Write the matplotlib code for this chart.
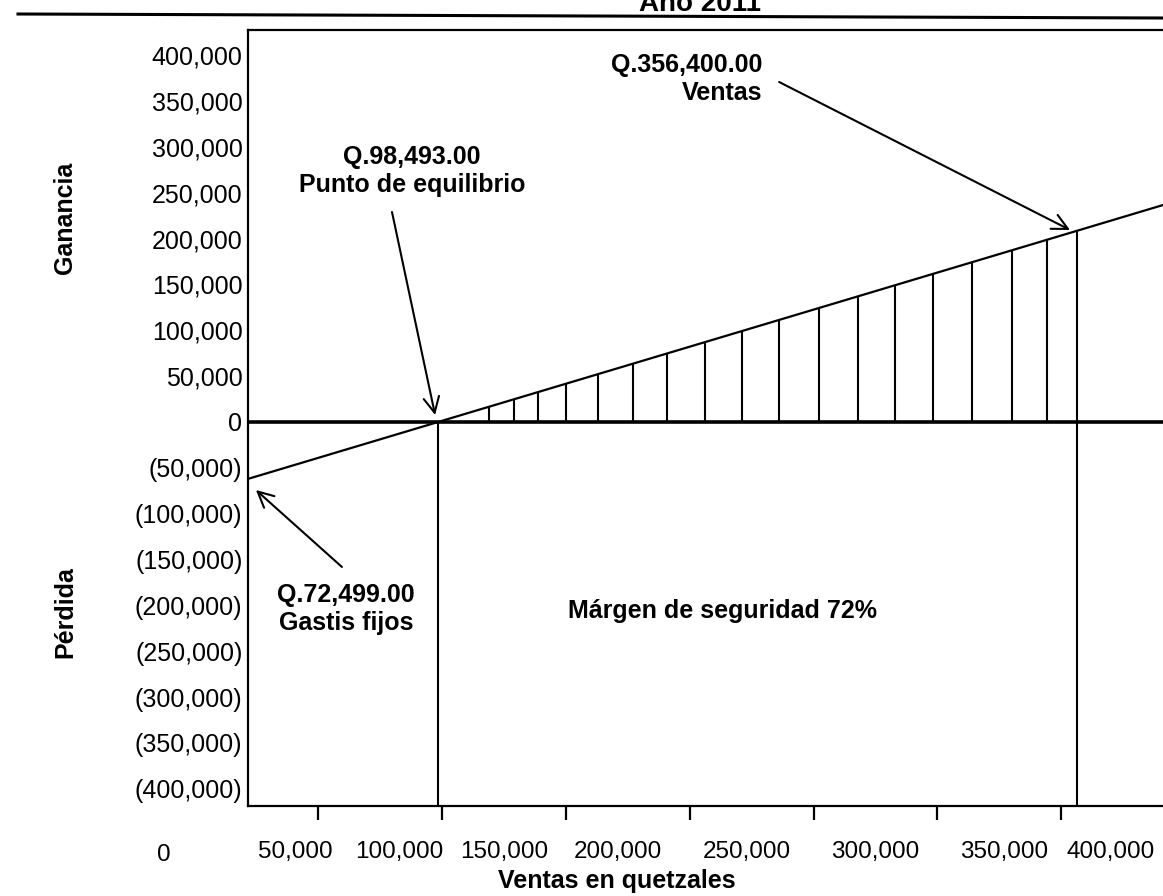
import matplotlib
matplotlib.use("Agg")
import matplotlib.pyplot as plt
from matplotlib.lines import Line2D

plt.rcParams["font.family"] = ["Liberation Sans", "DejaVu Sans"]

# datos
linea_ventas = [0, 98_493, 356_400, 400_000]
linea_utilidad = [-79_700, 0, 208_600, 243_900]

equilibrio = 98_493
ventas = 356_400

rayado_x = [119_000, 129_000, 139_000, 150_000, 163_000, 177_000, 191_000,
            206_000, 221_000, 236_000, 252_000, 268_000, 283_000, 298_000,
            314_000, 330_000, 344_000]
rayado_alto = [16_600, 24_700, 32_800, 41_700, 52_200, 63_500, 74_900,
               87_000, 99_100, 111_200, 124_200, 137_100, 149_300, 161_400,
               174_400, 187_300, 198_600]

y_ticks = list(range(-400_000, 400_001, 50_000))
x_marcas = list(range(50_000, 350_001, 50_000))
x_etiquetas = ["50,000", "100,000", "150,000", "200,000", "250,000",
               "300,000", "350,000", "400,000"]


def fmt(v):
    return f"({-v:,})" if v < 0 else f"{v:,}"


fig = plt.figure(figsize=(11.63, 8.96), dpi=100)
ax = fig.add_axes([248 / 1163, 1 - 806 / 896, 1 - 248 / 1163, (806 - 30) / 896])

ax.set_xlim(21_800, 391_000)
ax.set_ylim(-418_800, 427_500)

ax.axhline(0, color="black", lw=2.6, zorder=3)
ax.plot(linea_ventas, linea_utilidad, color="black", lw=1.6)
ax.vlines(rayado_x, 0, rayado_alto, color="black", lw=1.5)
ax.vlines(equilibrio, -418_800, 0, color="black", lw=1.5)
ax.vlines(ventas, -418_800, 208_600, color="black", lw=1.5)

for s in ["left", "top", "bottom"]:
    ax.spines[s].set_linewidth(1.6)
ax.spines["right"].set_visible(False)

ax.set_yticks(y_ticks)
ax.set_yticklabels([fmt(v) for v in y_ticks], fontsize=18)
ax.tick_params(axis="y", length=0, pad=4)

ax.set_xticks(x_marcas)
ax.set_xticklabels([""] * len(x_marcas))
ax.tick_params(axis="x", which="major", length=10, width=1.6, direction="out")
pos_etq = [41_000, 83_000, 125_000, 171_000, 223_000, 275_000, 327_000, 370_000]
ax.set_xticks(pos_etq, minor=True)
ax.set_xticklabels(x_etiquetas, minor=True, fontsize=17.5)
ax.tick_params(axis="x", which="minor", length=0, pad=25)
ax.text(-12_000, -0.0625, "0", transform=ax.get_xaxis_transform(),
        ha="center", va="center", fontsize=17.5, clip_on=False)

bold = dict(fontsize=18, fontweight="bold", color="black")
flecha = dict(arrowstyle="->", lw=1.5, color="black", mutation_scale=28,
              shrinkA=0, shrinkB=0)

ax.text(229_200, 374_000, "Q.356,400.00\nVentas", ha="right", va="center",
        multialignment="right", linespacing=1.25, **bold)
ax.annotate("", xy=(353_500, 209_400), xytext=(236_100, 370_800), arrowprops=flecha)

ax.text(88_000, 273_700, "Q.98,493.00\nPunto de equilibrio", ha="center",
        va="center", multialignment="center", linespacing=1.25, **bold)
ax.annotate("", xy=(97_300, 7_600), xytext=(79_900, 229_000), arrowprops=flecha)

ax.text(61_300, -203_900, "Q.72,499.00\nGastis fijos", ha="center",
        va="center", multialignment="center", linespacing=1.25, **bold)
ax.annotate("", xy=(25_000, -74_200), xytext=(59_700, -158_100), arrowprops=flecha)

ax.text(213_100, -206_100, "Márgen de seguridad 72%", ha="center", va="center", **bold)

fig.text(65 / 1163, 1 - 218 / 896, "Ganancia", rotation=90, ha="center",
         va="center", **bold)
fig.text(65 / 1163, 1 - 612 / 896, "Pérdida", rotation=90, ha="center",
         va="center", **bold)
fig.text(617 / 1163, 1 - 881 / 896, "Ventas en quetzales", ha="center",
         va="center", **bold)

fig.text(700 / 1163, 1 - 11 / 896, "Año 2011", ha="center", va="baseline",
         fontsize=20, fontweight="bold")
fig.add_artist(Line2D([18 / 1163, 1.0], [1 - 14 / 896, 1 - 18 / 896],
                      transform=fig.transFigure, color="black", lw=2.2))

fig.savefig("out.png", dpi=100)
